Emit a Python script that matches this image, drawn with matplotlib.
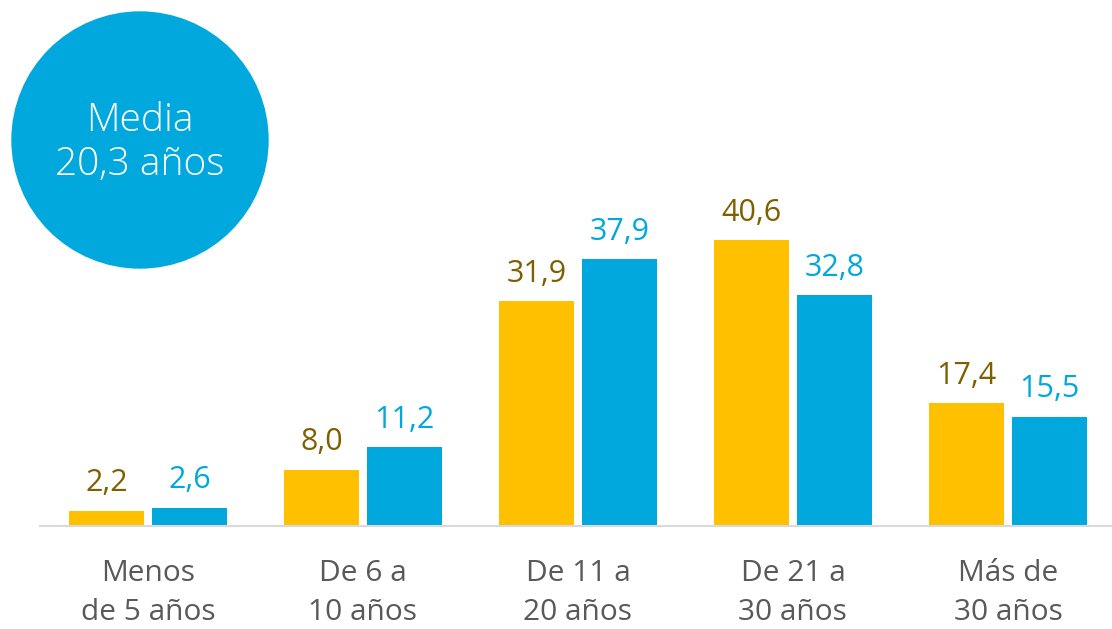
import matplotlib.pyplot as plt
from matplotlib.patches import Ellipse
import numpy as np

categories = ["Menos\nde 5 años", "De 6 a\n10 años", "De 11 a\n20 años", "De 21 a\n30 años", "Más de\n30 años"]
serie_a = [2.2, 8.0, 31.9, 40.6, 17.4]
serie_b = [2.6, 11.2, 37.9, 32.8, 15.5]
media_text = "Media\n20,3 años"

yellow = "#FFC000"
blue = "#00A8DE"
gold_text = "#7F6000"
grey_text = "#595959"

plt.rcParams['font.family'] = ['Open Sans', 'DejaVu Sans']

fig = plt.figure(figsize=(11.12, 6.29), dpi=100)
ax = fig.add_axes([40 / 1112, 103 / 629, 1 - 40 / 1112, 526 / 629])

x = np.arange(len(categories))
w = 0.349
off = 0.193
bars_a = ax.bar(x - off, serie_a, w, color=yellow)
bars_b = ax.bar(x + off, serie_b, w, color=blue)

for bars, vals, col in [(bars_a, serie_a, gold_text), (bars_b, serie_b, blue)]:
    for b, v in zip(bars, vals):
        ax.annotate(f"{v:.1f}".replace(".", ","), (b.get_x() + b.get_width() / 2, v),
                    xytext=(0, 9), textcoords="offset points",
                    ha="center", va="bottom", fontsize=22, color=col)

ax.set_xlim(-0.502, 4.484)
ax.set_ylim(0, 74.7)
for s in ["top", "right", "left"]:
    ax.spines[s].set_visible(False)
ax.spines["bottom"].set_color("#D9D9D9")
ax.spines["bottom"].set_linewidth(1.5)
ax.set_yticks([])
ax.set_xticks(x)
ax.set_xticklabels(categories, fontsize=21.5, color=grey_text, linespacing=1.42)
ax.tick_params(axis="x", length=0, pad=24)

circle = Ellipse((140 / 1112, 1 - 140 / 629), 256 / 1112, 256 / 629,
                 transform=fig.transFigure, color=blue, zorder=0)
fig.patches.append(circle)
fig.text(140 / 1112, 1 - 143 / 629, media_text, ha="center", va="center",
         fontsize=28, color="white", fontweight="light", linespacing=1.2)

fig.savefig("out.png", dpi=100)
